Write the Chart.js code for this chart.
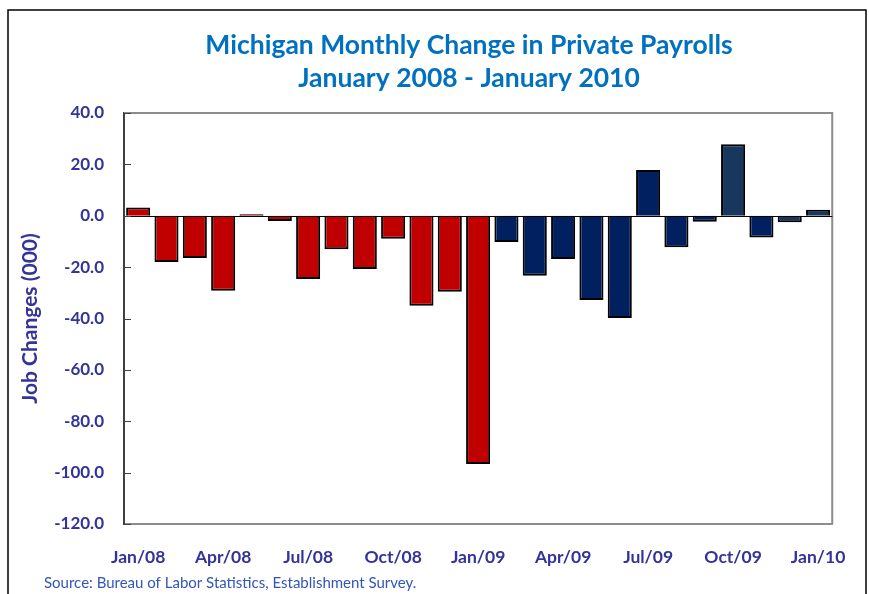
<!DOCTYPE html>
<html>
<head>
<meta charset="utf-8">
<script src="https://cdn.jsdelivr.net/npm/chart.js@4/dist/chart.umd.min.js"></script>
<style>
html,body{margin:0;padding:0;background:#fff;}
#wrap{position:relative;width:869px;height:594px;}
canvas{display:block;}
</style>
</head>
<body>
<div id="wrap"><canvas id="c" width="869" height="594"></canvas></div>
<script>
const categories = ['Jan/08','Feb/08','Mar/08','Apr/08','May/08','Jun/08','Jul/08','Aug/08','Sep/08','Oct/08','Nov/08','Dec/08',
  'Jan/09','Feb/09','Mar/09','Apr/09','May/09','Jun/09','Jul/09','Aug/09','Sep/09','Oct/09','Nov/09','Dec/09','Jan/10'];
const jobChanges = [3.2,-18.0,-16.4,-29.2,0.6,-2.0,-24.6,-13.0,-20.7,-9.0,-35.0,-29.6,
  -96.6,-10.2,-23.4,-16.8,-32.8,-39.8,17.8,-12.3,-2.3,27.8,-8.5,-2.5,2.3];
const barColors = ['#C00000','#C00000','#C00000','#C00000','#C00000','#C00000','#C00000','#C00000','#C00000','#C00000','#C00000','#C00000',
  '#C00000','#002060','#002060','#002060','#002060','#002060','#002060','#002060','#002060','#17375E','#002060','#17375E','#17375E'];
const yTicks = [-120,-100,-80,-60,-40,-20,0,20,40];
const titleLines = ['Michigan Monthly Change in Private Payrolls','January 2008 - January 2010'];
const sourceText = 'Source: Bureau of Labor Statistics, Establishment Survey.';
const yTitle = 'Job Changes (000)';

const FONT = 'Lato, "Open Sans", sans-serif';

const decor = {
  id: 'decor',
  beforeDraw(chart) {
    const ctx = chart.ctx;
    ctx.save();
    ctx.fillStyle = '#fff';
    ctx.fillRect(0, 0, chart.width, chart.height);
    ctx.restore();
  },
  afterDatasetsDraw(chart) {
    const ctx = chart.ctx;
    const a = chart.chartArea;
    const y = chart.scales.y;
    ctx.save();
    ctx.strokeStyle = '#8C8C8C';
    ctx.lineWidth = 2;
    ctx.beginPath();
    ctx.moveTo(a.left, a.top); ctx.lineTo(a.right, a.top); ctx.lineTo(a.right, a.bottom);
    ctx.stroke();
    const z = Math.round(y.getPixelForValue(0)) + 0.5;
    ctx.strokeStyle = '#000';
    ctx.lineWidth = 1;
    ctx.beginPath(); ctx.moveTo(a.left, z); ctx.lineTo(a.right, z); ctx.stroke();
    ctx.strokeStyle = '#404040';
    ctx.lineWidth = 1;
    yTicks.forEach(v => {
      const p = Math.round(y.getPixelForValue(v)) + 0.5;
      ctx.beginPath(); ctx.moveTo(a.left, p); ctx.lineTo(a.left + 7, p); ctx.stroke();
    });
    ctx.restore();
  },
  afterDraw(chart) {
    const ctx = chart.ctx;
    ctx.save();
    ctx.strokeStyle = '#000';
    ctx.lineWidth = 1.5;
    ctx.strokeRect(8, 10, 858, 700);
    ctx.fillStyle = '#0070C0';
    ctx.font = 'bold 26.5px ' + FONT;
    ctx.textAlign = 'center';
    ctx.textBaseline = 'middle';
    ctx.fillText(titleLines[0], 469, 45);
    ctx.fillText(titleLines[1], 469, 78);
    ctx.fillStyle = '#3355BB';
    ctx.font = '15px ' + FONT;
    ctx.textAlign = 'left';
    ctx.fillText(sourceText, 44, 583);
    ctx.restore();
  }
};

new Chart(document.getElementById('c'), {
  type: 'bar',
  data: {
    labels: categories,
    datasets: [{
      data: jobChanges,
      backgroundColor: barColors,
      borderColor: '#000',
      borderWidth: 2,
      barPercentage: 0.85,
      categoryPercentage: 1.0
    }]
  },
  options: {
    responsive: false,
    animation: false,
    layout: { padding: { left: 0, right: 36, top: 113, bottom: 0 } },
    plugins: { legend: { display: false }, tooltip: { enabled: false } },
    scales: {
      x: {
        grid: { display: false, drawTicks: false },
        border: { display: true, color: '#8C8C8C', width: 2 },
        ticks: {
          autoSkip: false, maxRotation: 0, padding: 23,
          color: '#333399',
          font: { family: FONT, size: 17.5, weight: 'bold' },
          callback: (v, i) => (i % 3 === 0 ? categories[i] : '')
        },
        afterFit: s => { s.height = 70; }
      },
      y: {
        min: -120, max: 40,
        afterBuildTicks: s => { s.ticks = yTicks.map(v => ({ value: v })); },
        grid: { display: false, drawTicks: false },
        border: { display: true, color: '#404040', width: 2 },
        ticks: {
          padding: 20,
          color: '#333399',
          font: { family: FONT, size: 17, weight: 'bold' },
          callback: v => v.toFixed(1)
        },
        title: {
          display: true, text: yTitle, color: '#333399',
          font: { family: FONT, size: 21, weight: 'bold' },
          padding: { top: 18, bottom: 0 }
        },
        afterFit: s => { s.width = 124; }
      }
    }
  },
  plugins: [decor]
});
</script>
</body>
</html>
